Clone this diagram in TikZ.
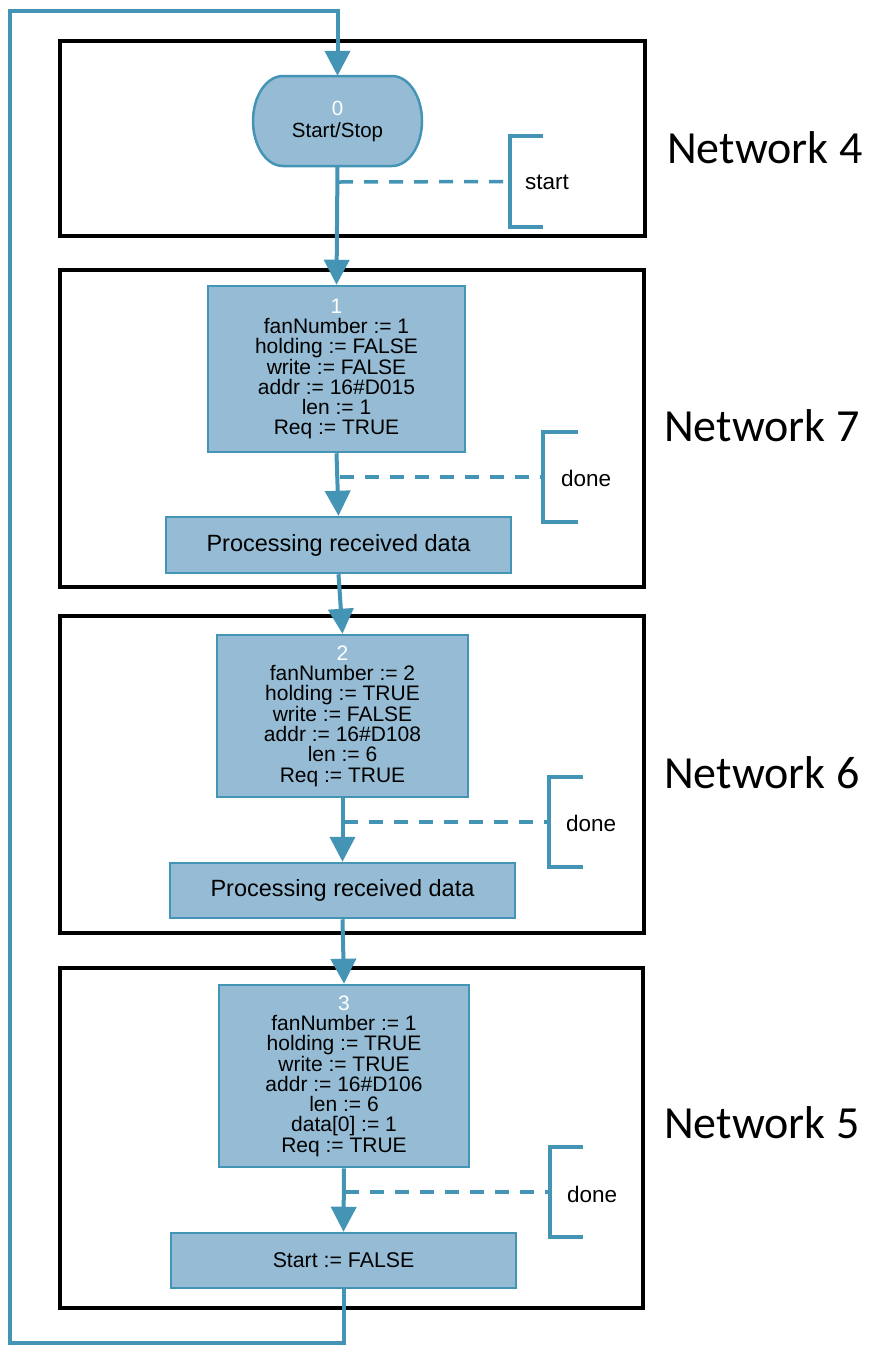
\documentclass[tikz,border=0pt]{standalone}
\usepackage{fontspec}
\setmainfont{Liberation Sans}
\newfontfamily\netfont{Carlito}
\usetikzlibrary{arrows.meta,calc}
\definecolor{flowblue}{RGB}{68,148,181}
\definecolor{stepfill}{RGB}{149,188,212}
\begin{document}
\begin{tikzpicture}[x=1pt,y=-1pt,
  stepbox/.style={draw=flowblue,line width=2.5pt,fill=stepfill,inner sep=0pt,align=center,
     font=\fontsize{21}{20.3}\selectfont},
  netbox/.style={draw=black,line width=4.5pt,inner sep=0pt},
  netlabel/.style={anchor=base west,inner sep=0pt,font=\netfont\fontsize{46}{46}\selectfont},
  flow/.style={draw=flowblue,line width=4pt},
  flowarrow/.style={flow,-{Triangle[width=25pt,length=25pt]}},
  cond/.style={draw=flowblue,line width=3.5pt,dash pattern=on 14pt off 11pt},
  brack/.style={draw=flowblue,line width=4pt},
  condlabel/.style={anchor=west,inner sep=0pt,font=\fontsize{22.5}{24}\selectfont},
  proc/.style={stepbox,minimum width=345pt,font=\fontsize{23.5}{25}\selectfont}]
\useasboundingbox (0,0) rectangle (869,1345);
\fill[white] (0,0) rectangle (869,1345);

% network frames
\node[netbox,minimum width=585pt,minimum height=195pt] (n4) at (352.5,138.5) {};
\node[netbox,minimum width=584pt,minimum height=317pt] (n7) at (352,428.5) {};
\node[netbox,minimum width=584pt,minimum height=317pt] (n6) at (352,774.5) {};
\node[netbox,minimum width=583pt,minimum height=340pt] (n5) at (351.5,1138) {};

\node[netlabel] (l4) at (667,163) {Network 4};
\node[netlabel] (l7) at (664,441) {Network 7};
\node[netlabel] (l6) at (664,788) {Network 6};
\node[netlabel] (l5) at (664,1138) {Network 5};

% step 0 (terminal shape)
\fill[stepfill,draw=flowblue,line width=2.5pt]
  (283,76) -- (392,76) arc[start angle=-90,end angle=90,x radius=30,y radius=45]
  -- (283,166) arc[start angle=90,end angle=270,x radius=30,y radius=45] -- cycle;
\node[inner sep=0pt,minimum width=169pt,minimum height=90pt,align=center,
  font=\fontsize{20.5}{22}\selectfont] (ss) at (337.5,121) {\textcolor{white}{0}\\Start/Stop};

% steps
\node[stepbox,minimum width=257pt,minimum height=166pt] (s1) at (336.5,369)
  {\textcolor{white}{1}\\fanNumber := 1\\holding := FALSE\\write := FALSE\\addr := 16\#D015\\len := 1\\Req := TRUE};
\node[proc,minimum height=56pt] (p1) at (338.5,545) {Processing received data};
\node[stepbox,minimum width=251pt,minimum height=162pt] (s2) at (342.5,716)
  {\textcolor{white}{2}\\fanNumber := 2\\holding := TRUE\\write := FALSE\\addr := 16\#D108\\len := 6\\Req := TRUE};
\node[proc,minimum height=55pt] (p2) at (342.5,890.5) {Processing received data};
\node[stepbox,minimum width=250pt,minimum height=182pt] (s3) at (344,1076)
  {\textcolor{white}{3}\\fanNumber := 1\\holding := TRUE\\write := TRUE\\addr := 16\#D106\\len := 6\\data[0] := 1\\Req := TRUE};
\node[stepbox,minimum width=345pt,minimum height=55pt,font=\fontsize{21.3}{23}\selectfont] (st) at (343.5,1260.5)
  {Start := FALSE};

% flow arrows
\draw[flowarrow] (ss.south) -- (s1.north);
\draw[flowarrow] (s1.south) -- (p1.north);
\draw[flowarrow] (p1.south) -- (s2.north);
\draw[flowarrow] (s2.south) -- (p2.north);
\draw[flowarrow] (p2.south) -- (s3.north);
\draw[flowarrow] (s3.south) -- (st.north);

% loop back
\coordinate (lb) at (10,1343);
\coordinate (lt) at (10,11);
\draw[flow,line join=miter,-{Triangle[width=25pt,length=25pt]}]
  (st.south) -- (st.south |- lb) -- (lb) -- (lt) -- (ss.north |- lt) -- (ss.north);

% transition brackets
\node[inner sep=0pt,minimum width=33pt,minimum height=91pt] (b4) at (526.5,181.5) {};
\node[inner sep=0pt,minimum width=35pt,minimum height=90pt] (b7) at (560.5,477) {};
\node[inner sep=0pt,minimum width=34pt,minimum height=90pt] (b6) at (566,822) {};
\node[inner sep=0pt,minimum width=33pt,minimum height=90pt] (b5) at (566.5,1192) {};
\foreach \b in {b4,b7,b6,b5}{
  \draw[brack] (\b.north east) -- (\b.north west) -- (\b.south west) -- (\b.south east);
}
\node[condlabel] (t4) at ($(b4.west)+(15,1)$) {start};
\node[condlabel] (t7) at ($(b7.west)+(18,1)$) {done};
\node[condlabel] (t6) at ($(b6.west)+(17,1)$) {done};
\node[condlabel] (t5) at ($(b5.west)+(17,2)$) {done};

\coordinate (c4) at (339,182);
\coordinate (c7) at (340,477);
\coordinate (c6) at (344,822);
\coordinate (c5) at (345,1192);
\draw[cond] (c4) -- (b4.west);
\draw[cond] (c7) -- (b7.west);
\draw[cond] (c6) -- (b6.west);
\draw[cond] (c5) -- (b5.west);
\end{tikzpicture}
\end{document}
